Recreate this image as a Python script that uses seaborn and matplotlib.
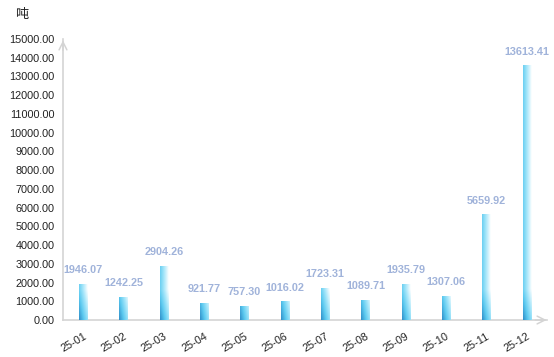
import numpy as np
import pandas as pd
import matplotlib
matplotlib.use('Agg')
import matplotlib.pyplot as plt
import seaborn as sns
from matplotlib.colors import LinearSegmentedColormap

# data
months = ['25-01', '25-02', '25-03', '25-04', '25-05', '25-06',
          '25-07', '25-08', '25-09', '25-10', '25-11', '25-12']
tons = [1946.07, 1242.25, 2904.26, 921.77, 757.30, 1016.02,
        1723.31, 1089.71, 1935.79, 1307.06, 5659.92, 13613.41]
yticks = np.arange(0, 15001, 1000)

df = pd.DataFrame({'month': months, 'tons': tons})

sns.set_theme(style='white')
plt.rcParams['font.family'] = ['Liberation Sans', 'Noto Sans CJK SC', 'DejaVu Sans']

fig = plt.figure(figsize=(5.54, 3.57), dpi=100)
ax = fig.add_axes([0.1137, 0.1036, 0.8736, 0.7872])

sns.barplot(data=df, x='month', y='tons', ax=ax, color='#5ccaf0',
            width=0.21, saturation=1, edgecolor='none')

# gradient fill for each bar
cmap = LinearSegmentedColormap.from_list('bar', ['#2f8ec8', '#5ccaf0', '#a6e6fa', '#ffffff'])
gx, gy = np.meshgrid(np.linspace(0, 1, 40), np.linspace(0, 1, 200))
for p in ax.patches:
    x0, y0 = p.get_x(), p.get_y()
    w, h = p.get_width(), p.get_height()
    hpx = h / 15000 * 281
    yfrac = np.clip(gy * hpx / 30, 0, 1)
    grad = 0.6 * gx + 0.4 * yfrac
    im = ax.imshow(grad, cmap=cmap, vmin=0, vmax=1, origin='lower',
                   extent=[x0, x0 + w, y0, y0 + h], aspect='auto', zorder=3)
    im.set_clip_path(p)

ax.set_xlim(-0.5, 11.5)
ax.set_ylim(0, 15000)

# value labels
for i, v in enumerate(tons):
    ax.annotate(f'{v:.2f}', (i, v), xytext=(0, 6), textcoords='offset points',
                ha='center', va='bottom', fontsize=7.8, fontweight='bold',
                color='#a0b3da', zorder=5)

ax.set_yticks(yticks)
ax.set_yticklabels([f'{t:.2f}' for t in yticks], fontsize=7.8, color='#222222')
ax.set_xticks(range(len(months)))
ax.set_xticklabels(months, rotation=30, ha='right', rotation_mode='anchor',
                   fontsize=7.8, color='#222222')
ax.tick_params(axis='both', length=0, pad=6)
ax.tick_params(axis='x', pad=8)
ax.set_xlabel('')
ax.set_ylabel('')

for s in ['top', 'right']:
    ax.spines[s].set_visible(False)
for s in ['left', 'bottom']:
    ax.spines[s].set_color('#d4d4d4')
    ax.spines[s].set_linewidth(1.2)

# arrow heads on axes
ax.annotate('', xy=(1.005, 0), xytext=(0.97, 0), xycoords='axes fraction',
            arrowprops=dict(arrowstyle='->', color='#d4d4d4', lw=1.1,
                            mutation_scale=14), annotation_clip=False)
ax.annotate('', xy=(0, 1.005), xytext=(0, 0.95), xycoords='axes fraction',
            arrowprops=dict(arrowstyle='->', color='#d4d4d4', lw=1.1,
                            mutation_scale=14), annotation_clip=False)

fig.text(0.028, 0.978, '吨', fontsize=9.5, color='#222222', va='top',
         family=['Noto Sans CJK SC', 'DejaVu Sans'])

fig.savefig('out.png', dpi=100)
